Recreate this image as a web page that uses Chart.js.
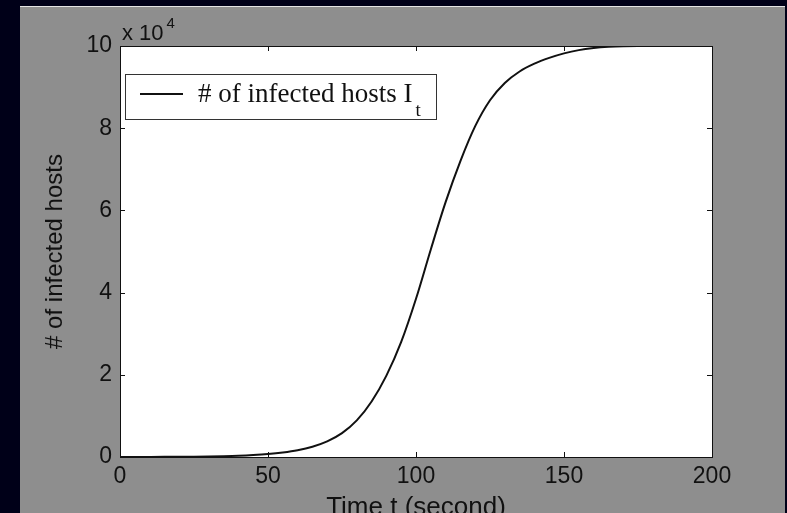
<!DOCTYPE html>
<html>
<head>
<meta charset="utf-8">
<script src="https://cdn.jsdelivr.net/npm/chart.js@4"></script>
<style>
html, body { margin: 0; padding: 0; background: #000018; overflow: hidden; }
#panel { position: absolute; left: 20px; top: 6px; width: 765px; height: 507px; background: #8e8e8e; border-top: 1px solid #e4e4e4; }
#chart { position: absolute; left: 0; top: 0; }
</style>
</head>
<body>
<div id="panel"></div>
<canvas id="chart" width="787" height="513"></canvas>
<script>
// Data
const times = [0, 5, 10, 15, 20, 25, 30, 35, 40, 45, 50, 55, 60, 65, 70, 75, 80, 85, 90, 95,
    100, 105, 110, 115, 120, 125, 130, 135, 140, 145, 150, 155, 160, 165, 170, 175, 180, 185, 190, 195, 200];
const infected = [10, 15, 25, 40, 60, 90, 135, 200, 300, 470, 720, 1100, 1650, 2500, 3800, 5800, 8900, 13500, 19800, 28000,
    38500, 50500, 62000, 72000, 80500, 86800, 91000, 93800, 95700, 97100, 98200, 99000, 99500, 99800, 99950, 100000, 100000, 100000, 100000, 100000, 100000];
const xTicks = [0, 50, 100, 150, 200];
const yTicks = [0, 20000, 40000, 60000, 80000, 100000];
const yMultiplier = 10000;
const legendLabel = '# of infected hosts I';
const legendSub = 't';

const ink = '#111';
const sans = 'Liberation Sans, Arial, sans-serif';
const serif = 'Liberation Serif, Times New Roman, serif';

// white plot box, black frame, inward ticks, exponent and legend
const matlabBox = {
    id: 'matlabBox',
    beforeDatasetsDraw(chart) {
        const { ctx, chartArea: a } = chart;
        ctx.save();
        ctx.fillStyle = '#fff';
        ctx.fillRect(a.left, a.top, a.right - a.left, a.bottom - a.top);
        ctx.restore();
    },
    afterDraw(chart) {
        const { ctx, chartArea: a, scales } = chart;
        ctx.save();
        ctx.strokeStyle = ink;
        ctx.lineWidth = 1;
        ctx.strokeRect(a.left + 0.5, a.top + 0.5, a.right - a.left, a.bottom - a.top);
        ctx.beginPath();
        xTicks.forEach(v => {
            const px = Math.round(scales.x.getPixelForValue(v)) + 0.5;
            ctx.moveTo(px, a.bottom); ctx.lineTo(px, a.bottom - 5);
            ctx.moveTo(px, a.top); ctx.lineTo(px, a.top + 5);
        });
        yTicks.forEach(v => {
            const py = Math.round(scales.y.getPixelForValue(v)) + 0.5;
            ctx.moveTo(a.left, py); ctx.lineTo(a.left + 5, py);
            ctx.moveTo(a.right, py); ctx.lineTo(a.right - 5, py);
        });
        ctx.stroke();

        // x 10^4
        ctx.fillStyle = ink;
        ctx.textBaseline = 'alphabetic';
        ctx.font = '22px ' + sans;
        ctx.fillText('x 10', a.left + 2, a.top - 6);
        const w = ctx.measureText('x 10').width;
        ctx.font = '15px ' + sans;
        ctx.fillText('4', a.left + 5 + w, a.top - 18);

        // legend
        const lx = a.left + 5, ly = a.top + 28, lw = 311, lh = 45;
        ctx.fillStyle = '#fff';
        ctx.fillRect(lx, ly, lw, lh);
        ctx.strokeStyle = '#333';
        ctx.strokeRect(lx + 0.5, ly + 0.5, lw, lh);
        ctx.strokeStyle = ink;
        ctx.lineWidth = 2;
        ctx.beginPath();
        ctx.moveTo(lx + 15, ly + 20); ctx.lineTo(lx + 58, ly + 20);
        ctx.stroke();
        ctx.fillStyle = ink;
        ctx.font = '27px ' + serif;
        ctx.fillText(legendLabel, lx + 73, ly + 28);
        const tw = ctx.measureText(legendLabel).width;
        ctx.font = '19px ' + serif;
        ctx.fillText(legendSub, lx + 76 + tw, ly + 42);
        ctx.restore();
    }
};

new Chart(document.getElementById('chart'), {
    type: 'line',
    data: {
        datasets: [{
            label: legendLabel,
            data: times.map((t, i) => ({ x: t, y: infected[i] })),
            borderColor: ink,
            borderWidth: 2,
            pointRadius: 0,
            cubicInterpolationMode: 'monotone',
        }],
    },
    options: {
        responsive: false,
        animation: false,
        layout: { padding: { top: 46, right: 75, left: 0, bottom: 0 } },
        plugins: { legend: { display: false }, tooltip: { enabled: false } },
        scales: {
            x: {
                type: 'linear',
                min: 0,
                max: 200,
                afterBuildTicks: s => { s.ticks = xTicks.map(v => ({ value: v })); },
                afterFit: s => { s.height = 56; },
                grid: { display: false, drawTicks: false },
                border: { display: false },
                ticks: { color: ink, font: { family: sans, size: 23 }, padding: 6, maxRotation: 0 },
                title: { display: true, text: 'Time t (second)', color: ink, font: { family: sans, size: 26 }, padding: { bottom: -10 } },
            },
            y: {
                min: 0,
                max: 100000,
                afterBuildTicks: s => { s.ticks = yTicks.map(v => ({ value: v })); },
                afterFit: s => { s.width = 120; },
                grid: { display: false, drawTicks: false },
                border: { display: false },
                ticks: { color: ink, font: { family: sans, size: 23 }, padding: 8, callback: v => v / yMultiplier },
                title: { display: true, text: '# of infected hosts', color: ink, font: { family: sans, size: 24 }, padding: { top: 41 } },
            },
        },
    },
    plugins: [matlabBox],
});
</script>
</body>
</html>
